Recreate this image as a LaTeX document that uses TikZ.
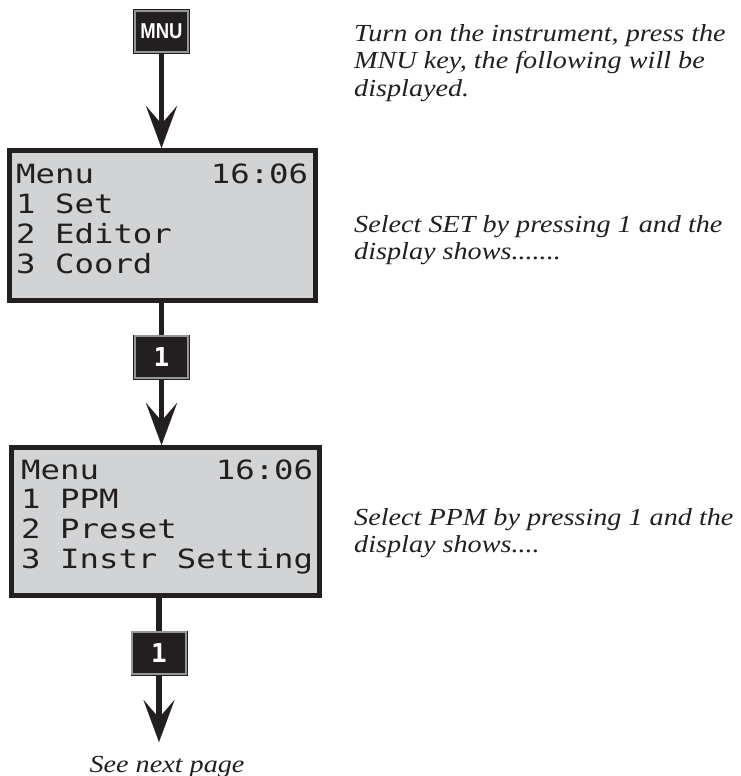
\documentclass[tikz,border=0pt]{standalone}
\usepackage{fontspec}
\setmainfont{Liberation Serif}
\newfontfamily\bodyfont{Liberation Serif}[FakeStretch=1.15]
\newfontfamily\dispfont{DejaVu Sans Mono}[FakeStretch=1.22]
\newfontfamily\keyfont{Liberation Sans}[FakeStretch=0.86]
\newfontfamily\keynumfont{DejaVu Sans Mono}
\usetikzlibrary{arrows.meta}
\definecolor{ink}{HTML}{231F20}
\definecolor{lcd}{HTML}{D1D3D4}
\definecolor{keyrim}{HTML}{939598}
\begin{document}
\begin{tikzpicture}[x=1pt,y=-1pt,
  lcdbox/.style={rectangle, draw=ink, line width=5pt, fill=lcd, inner sep=0pt},
  keybox/.style={rectangle, fill=ink, draw=ink, line width=0.7pt, double=keyrim,
    double distance=2pt, minimum width=53.6pt, minimum height=41.6pt,
    inner sep=0pt, outer sep=1.7pt, text=white},
  lcdtext/.style={inner sep=0pt, anchor=base west, text=ink,
    font=\dispfont\fontsize{26.5}{30}\selectfont},
  note/.style={inner sep=0pt, anchor=base west, text=ink,
    font=\bodyfont\itshape\fontsize{24.5}{27}\selectfont},
  flow/.style={draw=ink, line width=5.5pt},
  flowarrow/.style={flow, -{Stealth[length=42pt, width=31pt, inset=18pt, line width=0.1pt]}},
]
\useasboundingbox (0,0) rectangle (740,776);

% keys and displays
\node[keybox] (mnu) at (161.5,31.5) {\keyfont\bfseries\fontsize{21.5}{21.5}\selectfont MNU};
\node[lcdbox, minimum width=306pt, minimum height=150pt] (d1) at (162.5,225.5) {};
\node[lcdtext] (d1a) at (16,183.5) {Menu\ \ \ \ \ \ 16:06};
\node[lcdtext] (d1b) at (16,213.5) {1\ Set};
\node[lcdtext] (d1c) at (16,243.5) {2\ Editor};
\node[lcdtext] (d1d) at (16,273.5) {3\ Coord};

\node[keybox] (k1) at (161.5,357) {\keynumfont\bfseries\fontsize{26}{26}\selectfont 1};

\node[lcdbox, minimum width=308pt, minimum height=148pt] (d2) at (165.5,521.5) {};
\node[lcdtext] (d2a) at (21,479) {Menu\ \ \ \ \ \ 16:06};
\node[lcdtext] (d2b) at (21,508.5) {1\ PPM};
\node[lcdtext] (d2c) at (21,538) {2\ Preset};
\node[lcdtext] (d2d) at (21,568) {3\ Instr\ Setting};

\node[keybox] (k2) at (159,653) {\keynumfont\bfseries\fontsize{26}{26}\selectfont 1};
\coordinate (end) at (159,742);
\node[note, anchor=base] (next) at (167,772) {See next page};

% connectors
\draw[flowarrow] (mnu.south) -- (mnu.south |- d1.north);
\draw[flow] (k1.north |- d1.south) -- (k1.north);
\draw[flowarrow] (k1.south) -- (k1.south |- d2.north);
\draw[flow] (k2.north |- d2.south) -- (k2.north);
\draw[flowarrow] (k2.south) -- (end);

% explanatory notes
\node[note] (n1a) at (354,42) {Turn on the instrument, press the};
\node[note] (n1b) at (354,69) {MNU key, the following will be};
\node[note] (n1c) at (354,96) {displayed.};
\node[note] (n2a) at (354,232) {Select SET by pressing 1 and the};
\node[note] (n2b) at (354,259) {display shows.......};
\node[note] (n3a) at (354,525) {Select PPM by pressing 1 and the};
\node[note] (n3b) at (354,552) {display shows....};
\end{tikzpicture}
\end{document}
